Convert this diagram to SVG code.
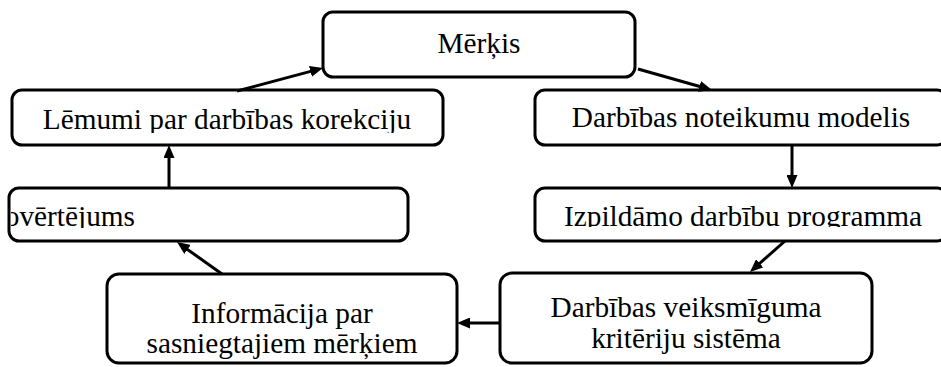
<svg xmlns="http://www.w3.org/2000/svg" width="941" height="367" viewBox="0 0 941 367">
  <style>
    .box { fill: #ffffff; stroke: #000000; stroke-width: 3; }
    .lbl { font-family: "Liberation Serif", "Times New Roman", serif; font-size: 29.3px; fill: #000000; text-anchor: middle; }
    .edge { fill: none; stroke: #000000; stroke-width: 3; marker-end: url(#head); }
  </style>
  <defs>
    <marker id="head" viewBox="0 0 13 11" refX="4" refY="5.5" markerWidth="13" markerHeight="11" markerUnits="userSpaceOnUse" orient="auto">
      <path d="M0,0 L13,5.5 L0,11 z" fill="#000000"/>
    </marker>
    <clipPath id="clipDecisions"><rect x="0" y="0" width="941" height="133"/></clipPath>
    <clipPath id="clipProgram"><rect x="0" y="0" width="941" height="227"/></clipPath>
    <clipPath id="clipAssessment"><rect x="11" y="0" width="930" height="228"/></clipPath>
  </defs>

  <g id="goal">
    <rect class="box" x="323" y="12" width="312" height="65" rx="10"/>
    <text class="lbl" x="479" y="53">Mērķis</text>
  </g>

  <g id="decisions">
    <rect class="box" x="12" y="90" width="431" height="55" rx="10"/>
    <text class="lbl" x="227" y="129" clip-path="url(#clipDecisions)">Lēmumi par darbības korekciju</text>
  </g>

  <g id="rules-model">
    <rect class="box" x="535" y="90" width="412" height="55" rx="10"/>
    <text class="lbl" x="741" y="127">Darbības noteikumu modelis</text>
  </g>

  <g id="assessment">
    <rect class="box" x="9" y="188" width="399" height="53" rx="10"/>
    <text class="lbl" x="135" y="226" style="text-anchor:end" clip-path="url(#clipAssessment)">Novērtējums</text>
  </g>

  <g id="program">
    <rect class="box" x="535" y="188" width="412" height="53" rx="10"/>
    <text class="lbl" x="743" y="226" clip-path="url(#clipProgram)">Izpildāmo darbību programma</text>
  </g>

  <g id="information">
    <rect class="box" x="107" y="274" width="350" height="89" rx="12"/>
    <text class="lbl" x="282" y="323">Informācija par</text>
    <text class="lbl" x="282" y="353">sasniegtajiem mērķiem</text>
  </g>

  <g id="criteria">
    <rect class="box" x="500" y="273" width="372" height="90" rx="12"/>
    <text class="lbl" x="686" y="317">Darbības veiksmīguma</text>
    <text class="lbl" x="686" y="348">kritēriju sistēma</text>
  </g>

  <g id="connectors">
    <path class="edge" d="M237,91 L314.3,70.4"/>
    <path class="edge" d="M638,69 L703.3,87.5"/>
    <path class="edge" d="M792,145 L792,179"/>
    <path class="edge" d="M785,241 L756.7,266"/>
    <path class="edge" d="M500,323 L466,323"/>
    <path class="edge" d="M222,274 L184.3,247.2"/>
    <path class="edge" d="M169,188 L169,154"/>
  </g>
</svg>
